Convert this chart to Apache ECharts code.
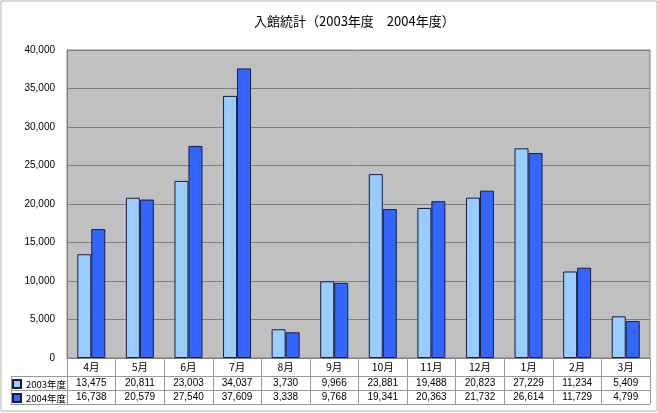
<!DOCTYPE html>
<html>
<head>
<meta charset="utf-8">
<script src="https://cdn.jsdelivr.net/npm/echarts@6/dist/echarts.min.js"></script>
<style>
  html, body { margin: 0; padding: 0; background: #fff; }
  #chart { width: 658px; height: 413px; }
</style>
</head>
<body>
<div id="chart"></div>
<script>
// 月（年度順）
const months = ['4月', '5月', '6月', '7月', '8月', '9月', '10月', '11月', '12月', '1月', '2月', '3月']
const seriesNames = ['2003年度', '2004年度']
const visitors2003 = [13475, 20811, 23003, 34037, 3730, 9966, 23881, 19488, 20823, 27229, 11234, 5409]
const visitors2004 = [16738, 20579, 27540, 37609, 3338, 9768, 19341, 20363, 21732, 26614, 11729, 4799]
const yTicks = [0, 5000, 10000, 15000, 20000, 25000, 30000, 35000, 40000]

const fontJP = '"Noto Sans CJK JP", sans-serif'
const fontNum = '"Liberation Sans", Arial, sans-serif'
const fmt = (v) => v.toLocaleString('en-US')

const chart = echarts.init(document.getElementById('chart'))

const lineColor = '#999999'
const tableLeft = 11
const tableRight = 650
const tableGraphics = [
  // 外枠
  { type: 'rect', shape: { x: 1, y: 1, width: 656, height: 410 }, style: { fill: 'none', stroke: '#b4b4b4', lineWidth: 1 } },
  // 表の横線
  { type: 'line', shape: { x1: tableLeft, y1: 376.5, x2: tableRight, y2: 376.5 }, style: { stroke: lineColor, lineWidth: 1 } },
  { type: 'line', shape: { x1: tableLeft, y1: 390.5, x2: tableRight, y2: 390.5 }, style: { stroke: lineColor, lineWidth: 1 } },
  { type: 'line', shape: { x1: tableLeft, y1: 404.5, x2: tableRight, y2: 404.5 }, style: { stroke: lineColor, lineWidth: 1 } },
  { type: 'line', shape: { x1: tableLeft + 0.5, y1: 376, x2: tableLeft + 0.5, y2: 405 }, style: { stroke: lineColor, lineWidth: 1 } },
]

const option = {
  animation: false,
  backgroundColor: '#ffffff',
  title: {
    text: '入館統計（2003年度　2004年度）',
    left: 249,
    top: 10,
    textStyle: { fontFamily: fontJP, fontSize: 13, fontWeight: 'normal', color: '#000' },
  },
  legend: {
    orient: 'vertical',
    left: 12,
    top: 377,
    padding: 0,
    itemGap: 0,
    itemWidth: 8,
    itemHeight: 8,
    icon: 'rect',
    data: seriesNames,
    textStyle: { fontFamily: fontJP, fontSize: 9.5, color: '#000', lineHeight: 14 },
  },
  grid: {
    left: 67,
    right: 8,
    top: 50,
    bottom: 55,
    show: true,
    backgroundColor: '#C0C0C0',
    borderColor: '#808080',
    borderWidth: 1,
    containLabel: false,
  },
  xAxis: {
    type: 'category',
    data: months,
    axisLine: { show: true, lineStyle: { color: '#808080' } },
    axisTick: { show: true, interval: 0, length: 46, lineStyle: { color: lineColor } },
    axisLabel: {
      interval: 0,
      margin: 0,
      formatter: (value, index) =>
        `{m|${value}}\n{v|${fmt(visitors2003[index])}}\n{v|${fmt(visitors2004[index])}}`,
      rich: {
        m: { fontFamily: fontJP, fontSize: 10.5, color: '#000', lineHeight: 18, height: 18 },
        v: { fontFamily: fontNum, fontSize: 10, color: '#000', lineHeight: 14, height: 14 },
      },
    },
  },
  yAxis: {
    type: 'value',
    min: yTicks[0],
    max: yTicks[yTicks.length - 1],
    interval: 5000,
    axisLine: { show: true, lineStyle: { color: '#808080' } },
    axisTick: { show: false },
    axisLabel: {
      margin: 12,
      fontFamily: fontNum,
      fontSize: 10,
      color: '#000',
      formatter: (v) => fmt(v),
    },
    splitLine: { show: true, lineStyle: { color: '#808080', width: 1 } },
  },
  series: [
    {
      name: seriesNames[0],
      type: 'bar',
      data: visitors2003,
      barWidth: 14,
      barGap: '0%',
      itemStyle: { color: '#99CCFF', borderColor: '#1c1c3c', borderWidth: 1 },
    },
    {
      name: seriesNames[1],
      type: 'bar',
      data: visitors2004,
      barWidth: 14,
      barGap: '0%',
      itemStyle: { color: '#3366FF', borderColor: '#1c1c3c', borderWidth: 1 },
    },
  ],
  graphic: tableGraphics,
}

chart.setOption(option)
</script>
</body>
</html>
